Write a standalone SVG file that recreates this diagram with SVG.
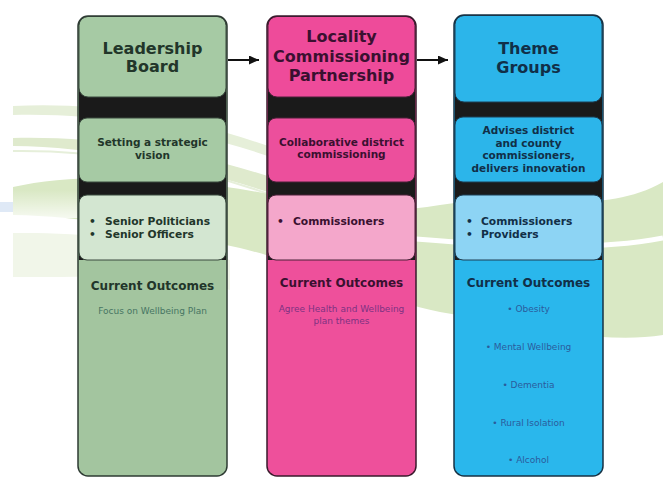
<svg xmlns="http://www.w3.org/2000/svg" width="663" height="478" viewBox="0 0 663 478">
<style>
text{font-family:"DejaVu Sans",Verdana,sans-serif}
.h{font-weight:bold;font-size:16px;text-anchor:middle}
.s{font-weight:bold;font-size:10.5px;text-anchor:middle}
.b{font-weight:bold;font-size:10.7px}
.co{font-weight:bold;font-size:12px;text-anchor:middle}
.t{font-size:9px;text-anchor:middle}
.band{fill:#1a1a1a}
.box{stroke-width:1}
.frame{fill:none;stroke-width:1.5}
.g1 .box{stroke:#3a4a3e}.g1 .frame{stroke:#2e3b33}.g1 text{fill:#22362a}.g1 .t{fill:#477563}
.g2 .box{stroke:#4a2038}.g2 .frame{stroke:#3a1a2c}.g2 text{fill:#3a1030}.g2 .t{fill:#7e3282}
.g3 .box{stroke:#1d3f55}.g3 .frame{stroke:#173244}.g3 text{fill:#112f48}.g3 .t{fill:#2a5c9c}
.conn{stroke:#111;stroke-width:2;fill:none}
</style>
<defs>
<marker id="arr" markerUnits="userSpaceOnUse" markerWidth="10" markerHeight="9" refX="10" refY="4.5" orient="auto">
<path d="M0,0 L10,4.5 L0,9 Z" fill="#111"/>
</marker>
<linearGradient id="fade" x1="0" y1="0" x2="0" y2="1">
<stop offset="0" stop-color="#ffffff" stop-opacity="0"/>
<stop offset="1" stop-color="#ffffff" stop-opacity="0.75"/>
</linearGradient>
</defs>
<rect width="663" height="478" fill="#ffffff"/>
<g id="background">
<rect x="0" y="202" width="13" height="10" fill="#dfe9f6"/>
<path d="M13,106 C100,102 180,115 280,150 L280,160 C180,126 100,113 13,115 Z" fill="#e6efd9"/>
<path d="M13,138 C100,136 190,150 280,180 L280,196 C190,166 100,147 13,146 Z" fill="#dfeacd"/>
<path d="M13,151 C100,150 190,165 280,198" fill="none" stroke="#e6efda" stroke-width="2"/>
<path d="M13,187 C40,181 70,178 110,178 C180,178 240,188 300,200 C360,212 400,212 440,205 C520,192 600,218 663,182 L663,335 C600,345 520,325 440,312 C380,300 300,262 240,248 C160,230 80,216 13,215 Z" fill="#d9e8c4"/>
<rect x="13" y="190" width="66" height="28" fill="url(#fade)"/>
<path d="M416,239 C500,246 590,252 663,238" fill="none" stroke="#ffffff" stroke-width="5"/>
<path d="M13,233 C80,232 160,240 230,260 L230,290 C160,272 80,278 13,277 Z" fill="#f1f6e9"/>
</g>
<g id="connectors">
<line class="conn" x1="228" y1="60" x2="259" y2="60" marker-end="url(#arr)"/>
<line class="conn" x1="417" y1="60" x2="448" y2="60" marker-end="url(#arr)"/>
</g>
<g id="leadership-board" class="g1">
<rect x="78" y="16" width="149" height="460" rx="10" fill="#a3c59f"/>
<rect class="band" x="79" y="88" width="147" height="172"/>
<rect class="box" x="79" y="16.5" width="147" height="80.5" rx="9" fill="#a6caa4"/>
<rect class="box" x="79" y="118" width="147" height="64" rx="8" fill="#a6caa4"/>
<rect class="box" x="79" y="195" width="147" height="65" rx="8" fill="#d3e6d1"/>
<rect class="frame" x="78" y="16" width="149" height="460" rx="10"/>
<text class="h" x="152.5" y="54">Leadership</text>
<text class="h" x="152.5" y="72">Board</text>
<text class="s" x="152.5" y="146">Setting a strategic</text>
<text class="s" x="152.5" y="159">vision</text>
<text class="b" x="89" y="225">•</text><text class="b" x="105" y="225">Senior Politicians</text>
<text class="b" x="89" y="238">•</text><text class="b" x="105" y="238">Senior Officers</text>
<text class="co" x="152.5" y="290">Current Outcomes</text>
<text class="t" x="152.5" y="314">Focus on Wellbeing Plan</text>
</g>
<g id="locality-commissioning-partnership" class="g2">
<rect x="267" y="16" width="149" height="460" rx="10" fill="#ee509b"/>
<rect class="band" x="268" y="88" width="147" height="172"/>
<rect class="box" x="268" y="16.5" width="147" height="80.5" rx="9" fill="#ee4b9a"/>
<rect class="box" x="268" y="118" width="147" height="64" rx="8" fill="#ec4f9c"/>
<rect class="box" x="268" y="195" width="147" height="65" rx="8" fill="#f4a7cb"/>
<rect class="frame" x="267" y="16" width="149" height="460" rx="10"/>
<text class="h" x="341.5" y="42">Locality</text>
<text class="h" x="341.5" y="62">Commissioning</text>
<text class="h" x="341.5" y="81">Partnership</text>
<text class="s" x="341.5" y="146">Collaborative district</text>
<text class="s" x="341.5" y="158">commissioning</text>
<text class="b" x="277" y="225">•</text><text class="b" x="293" y="225">Commissioners</text>
<text class="co" x="341.5" y="287">Current Outcomes</text>
<text class="t" x="341.5" y="312">Agree Health and Wellbeing</text>
<text class="t" x="341.5" y="324">plan themes</text>
</g>
<g id="theme-groups" class="g3">
<rect x="454" y="15" width="149" height="461" rx="10" fill="#2ab7ec"/>
<rect class="band" x="455" y="92" width="147" height="168"/>
<rect class="box" x="455" y="15.5" width="147" height="86.5" rx="9" fill="#2cb5ea"/>
<rect class="box" x="455" y="117" width="147" height="65" rx="8" fill="#2cb5ea"/>
<rect class="box" x="455" y="195" width="147" height="65" rx="8" fill="#8dd4f4"/>
<rect class="frame" x="454" y="15" width="149" height="461" rx="10"/>
<text class="h" x="528.5" y="54">Theme</text>
<text class="h" x="528.5" y="73">Groups</text>
<text class="s" x="528.5" y="134">Advises district</text>
<text class="s" x="528.5" y="146.5">and county</text>
<text class="s" x="528.5" y="159">commissioners,</text>
<text class="s" x="528.5" y="171.5">delivers innovation</text>
<text class="b" x="466" y="225">•</text><text class="b" x="481" y="225">Commissioners</text>
<text class="b" x="466" y="238">•</text><text class="b" x="481" y="238">Providers</text>
<text class="co" x="528.5" y="287">Current Outcomes</text>
<text class="t" x="528.5" y="312">• Obesity</text>
<text class="t" x="528.5" y="350">• Mental Wellbeing</text>
<text class="t" x="528.5" y="388">• Dementia</text>
<text class="t" x="528.5" y="426">• Rural Isolation</text>
<text class="t" x="528.5" y="463">• Alcohol</text>
</g>
</svg>
